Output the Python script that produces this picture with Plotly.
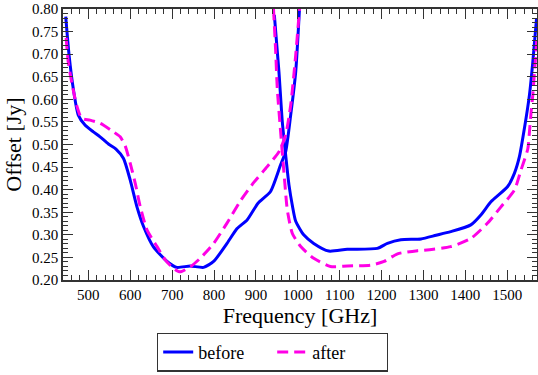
import plotly.graph_objects as go

# ---- data ----
before_left_f = [446, 454, 464, 476, 492, 512, 528, 548, 566, 584, 600, 616, 632, 655, 688, 711, 743, 775, 799, 831, 855, 879, 905, 935, 959, 971, 983, 995, 1004]
before_left_v = [0.783, 0.698, 0.624, 0.565, 0.543, 0.528, 0.517, 0.501, 0.490, 0.469, 0.421, 0.362, 0.318, 0.274, 0.241, 0.228, 0.231, 0.228, 0.241, 0.281, 0.314, 0.333, 0.370, 0.396, 0.455, 0.484, 0.565, 0.661, 0.80]

before_right_f = [944, 955, 963, 971, 979, 987, 995, 1014, 1038, 1074, 1118, 1190, 1214, 1246, 1294, 1330, 1365, 1413, 1437, 1461, 1501, 1517, 1529, 1541, 1553, 1561, 1570]
before_right_v = [0.787, 0.661, 0.550, 0.477, 0.410, 0.365, 0.330, 0.300, 0.281, 0.264, 0.268, 0.270, 0.281, 0.289, 0.291, 0.299, 0.307, 0.322, 0.344, 0.373, 0.407, 0.436, 0.473, 0.536, 0.610, 0.683, 0.780]

after_left_f = [447, 452, 460, 472, 484, 504, 528, 560, 576, 588, 600, 612, 624, 640, 664, 684, 703, 719, 743, 767, 799, 831, 863, 895, 927, 955, 971, 983, 995, 1004]
after_left_v = [0.736, 0.683, 0.639, 0.587, 0.558, 0.554, 0.547, 0.528, 0.517, 0.497, 0.458, 0.414, 0.362, 0.311, 0.274, 0.244, 0.226, 0.218, 0.229, 0.248, 0.281, 0.326, 0.375, 0.416, 0.451, 0.484, 0.521, 0.587, 0.698, 0.800]

after_right_f = [942, 947, 951, 959, 969, 975, 987, 1007, 1038, 1078, 1118, 1174, 1206, 1238, 1286, 1301, 1365, 1413, 1453, 1485, 1517, 1533, 1549, 1553, 1557, 1561, 1565, 1568, 1571]
after_right_v = [0.800, 0.710, 0.624, 0.528, 0.415, 0.355, 0.303, 0.274, 0.248, 0.230, 0.231, 0.233, 0.241, 0.258, 0.265, 0.266, 0.274, 0.292, 0.326, 0.362, 0.399, 0.444, 0.490, 0.528, 0.573, 0.610, 0.661, 0.698, 0.740]

x_ticks = [500, 600, 700, 800, 900, 1000, 1100, 1200, 1300, 1400, 1500]
y_ticks = [0.20, 0.25, 0.30, 0.35, 0.40, 0.45, 0.50, 0.55, 0.60, 0.65, 0.70, 0.75, 0.80]

FONT = "Liberation Serif"
BLUE = "#0000ff"
MAGENTA = "#ff00e6"

fig = go.Figure()
fig.add_trace(go.Scatter(
    x=before_left_f + [None] + before_right_f,
    y=before_left_v + [None] + before_right_v,
    mode="lines", name="before",
    line=dict(color=BLUE, width=3, shape="spline", smoothing=0.6),
    connectgaps=False,
))
fig.add_trace(go.Scatter(
    x=after_left_f + [None] + after_right_f,
    y=after_left_v + [None] + after_right_v,
    mode="lines", name="after",
    line=dict(color=MAGENTA, width=3, dash="11px,6px", shape="spline", smoothing=0.6),
    connectgaps=False,
))

axis_common = dict(
    showline=True, linecolor="#333333", linewidth=1.5, mirror="allticks",
    ticks="inside", ticklen=10, tickwidth=1.2, tickcolor="#333333",
    showgrid=False, zeroline=False, automargin=False,
    tickfont=dict(family=FONT, size=15, color="black"),
)

fig.update_xaxes(
    range=[439.5, 1571], tickvals=x_ticks, ticktext=[str(v) for v in x_ticks],
    minor=dict(dtick=20, tick0=0, ticks="inside", ticklen=5, tickwidth=1, tickcolor="#333333"),
    title=dict(text="Frequency [GHz]", font=dict(family=FONT, size=22, color="black"), standoff=2),
    **axis_common,
)
fig.update_yaxes(
    range=[0.20, 0.80], tickvals=y_ticks, ticktext=[f"{v:.2f}" for v in y_ticks],
    minor=dict(dtick=0.01, tick0=0, ticks="inside", ticklen=5, tickwidth=1, tickcolor="#333333"),
    title=dict(text="Offset [Jy]", font=dict(family=FONT, size=22, color="black"), standoff=4),
    **axis_common,
)

fig.update_layout(
    width=538, height=375,
    margin=dict(l=63, r=1, t=9, b=95),
    paper_bgcolor="white", plot_bgcolor="white",
    showlegend=True,
    legend=dict(
        orientation="h", xref="container", yref="container",
        x=0.5065, xanchor="center", y=0.113, yanchor="top",
        bordercolor="#333333", borderwidth=1.2, bgcolor="white",
        font=dict(family=FONT, size=18, color="black"),
        entrywidth=69, entrywidthmode="pixels", tracegroupgap=0,
    ),
)

fig.write_html(
    "out.html",
    config={"displayModeBar": False},
    post_script="document.body.style.margin='0';document.body.style.overflow='hidden';",
)
